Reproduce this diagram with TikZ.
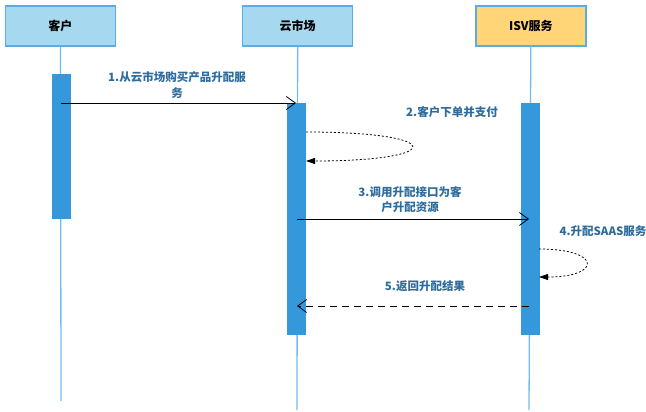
\documentclass[tikz,border=0pt]{standalone}
\usepackage{fontspec}
\setmainfont{Noto Sans CJK SC}
\usetikzlibrary{arrows.meta,positioning}

\definecolor{headfill}{RGB}{166,216,240}
\definecolor{isvfill}{RGB}{255,213,120}
\definecolor{headline}{RGB}{90,172,228}
\definecolor{barblue}{RGB}{52,152,219}
\definecolor{lifeblue}{RGB}{115,188,236}
\definecolor{msgtext}{RGB}{46,108,158}

\begin{document}
\begin{tikzpicture}[x=1pt,y=-1pt]
    \tikzset{head/.style= {draw=headline, line width=1.2pt, fill=headfill
    , minimum width=110pt, minimum height=40pt
    , font=\fontsize{12}{14}\selectfont\bfseries
      }
    , bar/.style= {fill=barblue, minimum width=19pt, inner sep=0pt}
    , life/.style= {draw=lifeblue, line width=1.3pt}
    , msg/.style= {text=msgtext, align=center
    , font=\fontsize{11.5}{15.5}\selectfont\bfseries}
    , call/.style= {-{Straight Barb[length=9pt,width=13pt]}, line width=0.8pt}
    , reply/.style= {call, dash pattern=on 7pt off 5pt}
    , self/.style= {-{Triangle[length=9pt,width=6pt]}, line width=0.8pt
    , dash pattern=on 2pt off 2pt}
    }

\useasboundingbox (0,0) rectangle (646,412);

\node [head] (cust) at (60.5,26) {客户};
\node [head, right=126pt of cust] (mkt) {云市场};
\node [head, fill=isvfill, right=122pt of mkt] (isv) {ISV服务};

% lifelines
\coordinate (custend) at (61,401);
\coordinate (mktend) at (297,410);
\coordinate (isvend) at (529,410);
\path[life] (cust) -- (custend);
\path[life] (mkt) -- (mktend);
\path[life] (isv) -- (isvend);

% activation bars
\node [bar, minimum height=145pt] (custbar) at (61.5,146.5) {};
\node [bar, minimum height=232pt] (mktbar) at (296.5,219) {};
\node [bar, minimum height=232pt] (isvbar) at (530,219) {};

% messages
\coordinate (m1a) at (61,103);
\coordinate (m1b) at (296,103);
\coordinate (s1a) at (306,132);
\coordinate (s1b) at (306,161);
\coordinate (m3a) at (297,219);
\coordinate (m3b) at (529,219);
\coordinate (s2a) at (539,249);
\coordinate (s2b) at (539,277);
\coordinate (m5a) at (529,306);
\coordinate (m5b) at (297,306);

\draw[call] (m1a) -- (m1b);
\draw[self] (s1a) .. controls +(141,0) and +(141,0) .. (s1b);
\draw[call] (m3a) -- (m3b);
\draw[self] (s2a) .. controls +(63,0) and +(63,0) .. (s2b);
\draw[reply] (m5a) -- (m5b);

\node [msg] (t1) at (177,85) {1.从云市场购买产品升配服\\务};
\node [msg] (t2) at (452,112) {2.客户下单并支付};
\node [msg] (t3) at (410,199.5) {3.调用升配接口为客\\户升配资源};
\node [msg] (t4) at (603,231) {4.升配SAAS服务};
\node [msg] (t5) at (425,286) {5.返回升配结果};
\end{tikzpicture}
\end{document}
